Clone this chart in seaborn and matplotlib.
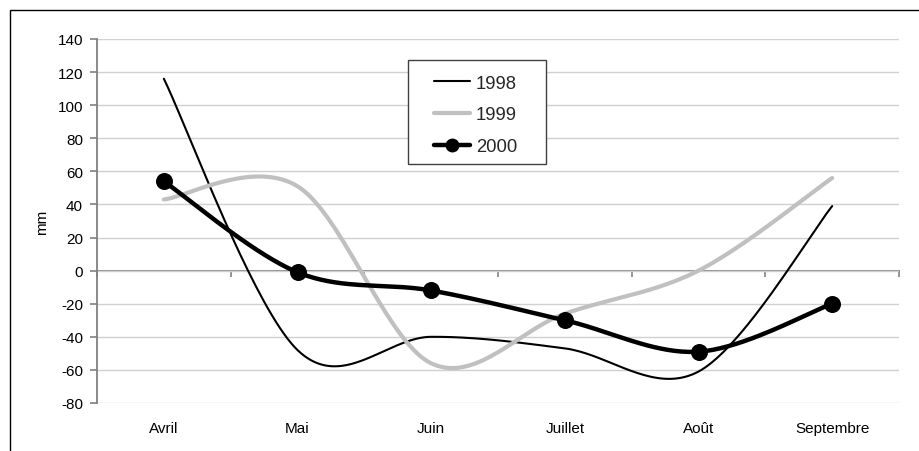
import numpy as np
import matplotlib
matplotlib.use("Agg")
import matplotlib.pyplot as plt
import seaborn as sns
from matplotlib.lines import Line2D
from matplotlib.patches import Rectangle

months = ["Avril", "Mai", "Juin", "Juillet", "Août", "Septembre"]
v1998 = [116, -48, -40, -47, -61, 39]
v1999 = [43, 51, -56, -26, 0, 56]
v2000 = [54, -1, -12, -30, -49, -20]
years = ["1998", "1999", "2000"]
yticks = list(range(-80, 141, 20))

sns.set_theme(style="white")
plt.rcParams["font.family"] = ["Liberation Sans", "DejaVu Sans"]


def smooth(vals, n=40):
    """Excel-like smoothed line: cubic Bezier through the points."""
    x = np.arange(len(vals), dtype=float)
    P = np.column_stack([x, np.asarray(vals, float)])
    Pe = np.vstack([P[0], P, P[-1]])
    t = np.linspace(0, 1, n)[:, None]
    out = []
    for i in range(len(P) - 1):
        p0 = Pe[i + 1]
        p3 = Pe[i + 2]
        c1 = p0 + (Pe[i + 2] - Pe[i]) / 6
        c2 = p3 - (Pe[i + 3] - Pe[i + 1]) / 6
        seg = (1 - t) ** 3 * p0 + 3 * (1 - t) ** 2 * t * c1 + 3 * (1 - t) * t ** 2 * c2 + t ** 3 * p3
        out.append(seg if i == 0 else seg[1:])
    return np.vstack(out)


fig = plt.figure(figsize=(9.19, 4.52), dpi=100)
W, H = 919, 452
ax = fig.add_axes([97 / W, 1 - 404 / H, (899 - 97) / W, (404 - 40) / H])

series = [(v1998, "#000000", 1.5), (v1999, "#C0C0C0", 3.0), (v2000, "#000000", 3.2)]
for vals, col, lw in series:
    c = smooth(vals)
    sns.lineplot(x=c[:, 0], y=c[:, 1], sort=False, estimator=None, color=col,
                 linewidth=lw, ax=ax, legend=False, zorder=3)
sns.scatterplot(x=np.arange(len(months)), y=v2000, color="black", s=150,
                edgecolor="black", linewidth=0, ax=ax, legend=False, zorder=4)

ax.set_xlim(-0.5, len(months) - 0.5)
ax.set_ylim(-80, 140)
ax.set_yticks(yticks)
ax.set_yticklabels([str(v) for v in yticks], fontsize=11)
ax.set_xticks(range(len(months)))
ax.set_xticklabels(months, fontsize=11)
ax.tick_params(axis="x", length=0, pad=13, colors="black")
ax.tick_params(axis="y", length=5, width=1.2, color="#808080", pad=5, left=True, labelcolor="black")
ax.yaxis.grid(True, color="#D0D0D0", linewidth=1)
ax.xaxis.grid(False)
ax.set_axisbelow(True)
for s in ["top", "right", "bottom"]:
    ax.spines[s].set_visible(False)
ax.spines["left"].set_color("#808080")
ax.spines["left"].set_linewidth(1.3)
ax.set_ylabel("mm", fontsize=11, color="black")
ax.yaxis.set_label_coords(-0.06, 0.5)

# category axis crossing at zero with ticks between categories
sec = ax.secondary_xaxis(80 / 220)
sec.set_xticks(np.arange(-0.5, len(months), 1.0))
sec.tick_params(axis="x", length=4, width=1.2, color="#808080", direction="out",
                labelbottom=False, labeltop=False, bottom=True, top=False)
sec.spines["bottom"].set_color("#808080")
sec.spines["bottom"].set_linewidth(1.3)
for s in ["top", "left", "right"]:
    if s in sec.spines:
        sec.spines[s].set_visible(False)

# legend frame
fig.patches.append(Rectangle((408 / W, 1 - 165 / H), (546 - 408) / W, (165 - 61) / H,
                             transform=fig.transFigure, facecolor="white",
                             edgecolor="#404040", linewidth=1.0, zorder=5))
handles = [
    Line2D([], [], color="#000000", lw=1.5),
    Line2D([], [], color="#C0C0C0", lw=3.0),
    Line2D([], [], color="#000000", lw=3.2, marker="o", markersize=9),
]
leg = fig.legend(handles, years, loc="center left", bbox_to_anchor=(434 / W, 1 - 116 / H),
                 bbox_transform=fig.transFigure, fontsize=13.3, frameon=False,
                 borderpad=0, handlelength=1.95, handletextpad=0.32, labelspacing=0.8,
                 numpoints=1, borderaxespad=0)
leg.set_zorder(6)

fig.patches.append(Rectangle((10 / W, -0.5), 1.5, 1.5 - 11 / H, transform=fig.transFigure,
                             fill=False, edgecolor="black", linewidth=1.0))

fig.savefig("out.png", dpi=100)
